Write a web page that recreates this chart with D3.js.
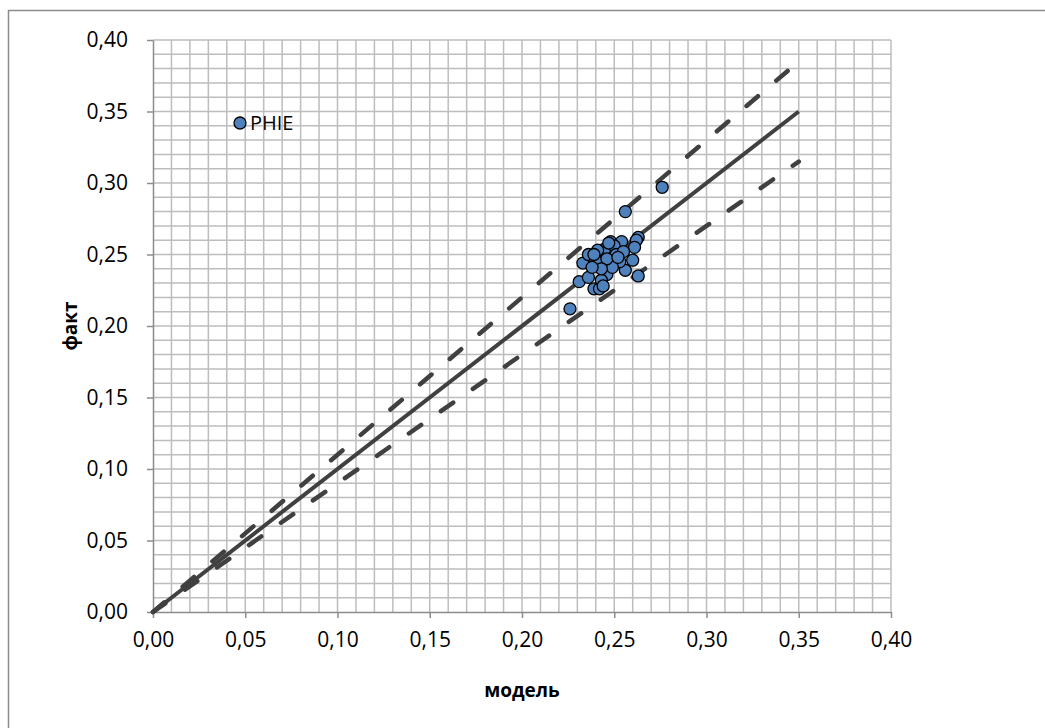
<!DOCTYPE html>
<html><head><meta charset="utf-8">
<script src="https://cdn.jsdelivr.net/npm/d3@7"></script>
<style>body{margin:0;background:#fff}svg{display:block}text{font-family:"Open Sans",Lato,sans-serif}</style>
</head><body><svg id="c" width="1045" height="728"></svg>
<script>
const modelX = [0.276,0.256,0.263,0.262,0.261,0.260,0.263,0.226,0.239,0.242,0.231,0.236,0.233,0.236,0.245,0.248,0.254,0.250,0.251,0.256,0.244,0.246,0.243,0.240,0.253,0.249,0.241,0.239,0.255,0.246,0.243,0.247,0.252,0.238,0.244];
const factY  = [0.297,0.280,0.262,0.260,0.255,0.246,0.235,0.212,0.226,0.226,0.231,0.234,0.244,0.250,0.254,0.259,0.259,0.256,0.250,0.239,0.242,0.236,0.232,0.246,0.245,0.241,0.253,0.250,0.252,0.247,0.240,0.258,0.248,0.241,0.228];
const tickValues = [0,0.05,0.10,0.15,0.20,0.25,0.30,0.35,0.40];
const tickLabels = ["0,00","0,05","0,10","0,15","0,20","0,25","0,30","0,35","0,40"];
const gridValues = d3.range(0,41).map(i=>i/100);
const lineX = [0,0.35];
const ratioSolid = 1.0, ratioUpper = 1.1, ratioLower = 0.9;
const seriesName = "PHIE";

const svg = d3.select("#c");
const x = d3.scaleLinear().domain([0,0.4]).range([153,891]);
const y = d3.scaleLinear().domain([0,0.4]).range([612,40]);

svg.append("rect").attr("x",8.5).attr("y",10.5).attr("width",1100).attr("height",800)
  .attr("fill","none").attr("stroke","#8c8c8c").attr("stroke-width",1.5);

const g = svg.append("g");
g.selectAll("line.gv").data(gridValues.slice(1)).join("line")
  .attr("x1",d=>x(d)).attr("x2",d=>x(d)).attr("y1",y(0)).attr("y2",y(0.4))
  .attr("stroke","#bdbdbd").attr("stroke-width",1.5);
g.selectAll("line.gh").data(gridValues.slice(1)).join("line")
  .attr("y1",d=>y(d)).attr("y2",d=>y(d)).attr("x1",x(0)).attr("x2",x(0.4))
  .attr("stroke","#bdbdbd").attr("stroke-width",1.5);

const xAxis = svg.append("g").attr("transform",`translate(0,${y(0)})`)
  .call(d3.axisBottom(x).tickValues(tickValues).tickFormat((d,i)=>tickLabels[i]).tickSizeInner(6).tickSizeOuter(0).tickPadding(14));
const yAxis = svg.append("g").attr("transform",`translate(${x(0)},0)`)
  .call(d3.axisLeft(y).tickValues(tickValues).tickFormat((d,i)=>tickLabels[i]).tickSizeInner(6).tickSizeOuter(0).tickPadding(19));
[xAxis,yAxis].forEach(a=>{
  a.select(".domain").attr("stroke","#8c8c8c").attr("stroke-width",1.5);
  a.selectAll(".tick line").attr("stroke","#8c8c8c").attr("stroke-width",1.5);
  a.selectAll(".tick text").attr("font-size",21).attr("fill","#000").attr("font-family","'Open Sans', Lato, sans-serif");
});
xAxis.selectAll(".tick text").attr("dy","0.72em");

const line = d3.line().x(d=>x(d[0])).y(d=>y(d[1]));
const mk = r => lineX.map(v=>[v, v*r]);
svg.append("path").attr("d",line(mk(ratioUpper))).attr("fill","none").attr("stroke","#404040")
  .attr("stroke-width",4.5).attr("stroke-dasharray","15,24").attr("stroke-linecap","round");
svg.append("path").attr("d",line(mk(ratioLower))).attr("fill","none").attr("stroke","#404040")
  .attr("stroke-width",4.5).attr("stroke-dasharray","15,24").attr("stroke-linecap","round");
svg.append("path").attr("d",line(mk(ratioSolid))).attr("fill","none").attr("stroke","#404040")
  .attr("stroke-width",4);

const pts = modelX.map((v,i)=>[v,factY[i]]);
svg.append("g").selectAll("circle").data(pts).join("circle")
  .attr("cx",d=>x(d[0])).attr("cy",d=>y(d[1])).attr("r",6)
  .attr("fill","#4f81bd").attr("stroke","#000").attr("stroke-width",1.3);

svg.append("circle").attr("cx",240).attr("cy",123).attr("r",6)
  .attr("fill","#4f81bd").attr("stroke","#000").attr("stroke-width",1.3);
svg.append("text").attr("x",250).attr("y",130).attr("font-size",20).text(seriesName);

svg.append("text").attr("x",(x(0)+x(0.4))/2).attr("y",697).attr("text-anchor","middle")
  .attr("font-size",19).attr("font-weight","bold").text("модель");
svg.append("text").attr("transform",`translate(77,${(y(0)+y(0.4))/2}) rotate(-90)`).attr("text-anchor","middle")
  .attr("font-size",19).attr("font-weight","bold").text("факт");
</script></body></html>
